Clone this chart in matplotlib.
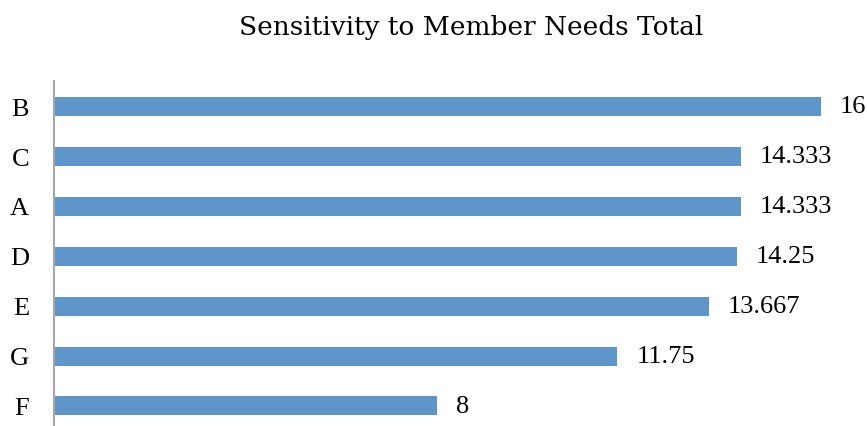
import matplotlib.pyplot as plt

categories = ["B", "C", "A", "D", "E", "G", "F"]
values = [16, 14.333, 14.333, 14.25, 13.667, 11.75, 8]
value_labels = ["16", "14.333", "14.333", "14.25", "13.667", "11.75", "8"]

W, H = 867, 427
fig = plt.figure(figsize=(W / 100, H / 100), dpi=100)

# axes placed in pixel terms: x=0 at 53.5px, 16 at 820.5px; rows 50px apart from y=82
x0, px_per_unit = 53.5, (820.5 - 53.5) / 16
xmax = 17
top, bottom = 82, 432
ax = fig.add_axes([x0 / W, (H - bottom) / H, xmax * px_per_unit / W, (bottom - top) / H])

ypos = list(range(len(categories)))
ax.barh(ypos, values, height=0.38, color="#5F96CA", zorder=2)
ax.set_ylim(len(categories) - 0.5, -0.5)
ax.set_xlim(0, xmax)

for y, v, lab in zip(ypos, values, value_labels):
    ax.annotate(lab, (v, y), xytext=(14, 0), textcoords="offset points",
                ha="left", va="center", fontsize=19, family="Liberation Serif",
                annotation_clip=False)

ax.set_yticks(ypos)
ax.set_yticklabels(categories, family="Liberation Serif", fontsize=19)
ax.tick_params(axis="y", length=0, pad=17.5)
ax.set_xticks([])
for s in ["top", "right", "bottom"]:
    ax.spines[s].set_visible(False)
ax.spines["left"].set_color("#A6A6A6")
ax.spines["left"].set_linewidth(1.5)

fig.text(471 / W, 1 - 27.5 / H, "Sensitivity to Member Needs Total", ha="center", va="center",
         fontsize=19, family="DejaVu Serif")

fig.savefig("out.png", dpi=100)
